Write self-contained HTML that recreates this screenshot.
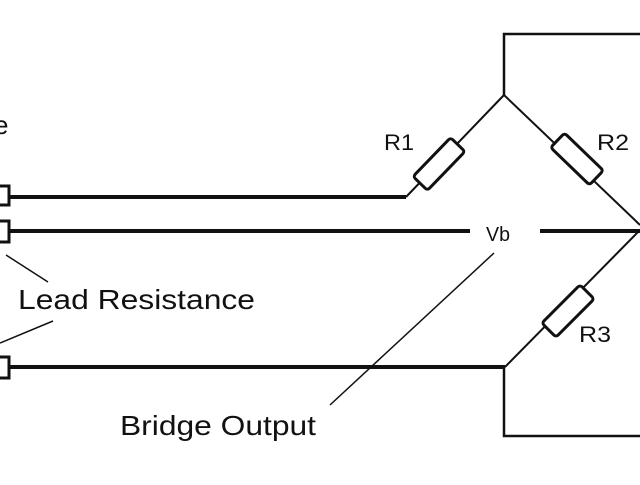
<!DOCTYPE html>
<html><head><style>
body{margin:0;background:#fff;width:640px;height:480px;overflow:hidden}
svg text{font-family:"Liberation Sans",sans-serif;fill:#111}
</style></head><body>
<svg width="640" height="480" viewBox="0 0 640 480" xmlns="http://www.w3.org/2000/svg">
<g stroke="#111" fill="none">
<polyline points="504,95 504,34 640,34" stroke-width="2.5"/>
<polyline points="504,367 504,436 640,436" stroke-width="2.5"/>
<polyline points="10,197 406,197" stroke-width="4"/>
<line x1="10" y1="231" x2="470" y2="231" stroke-width="4"/>
<line x1="540" y1="231" x2="640" y2="231" stroke-width="4"/>
<line x1="10" y1="367" x2="505" y2="367" stroke-width="4"/>
<line x1="406" y1="197" x2="504" y2="95" stroke-width="2"/>
<line x1="504" y1="95" x2="640" y2="225" stroke-width="2"/>
<line x1="640" y1="230" x2="505" y2="367" stroke-width="2"/>
<line x1="6" y1="255" x2="48" y2="282" stroke-width="1.5"/>
<line x1="0" y1="343" x2="53" y2="321" stroke-width="1.5"/>
<line x1="330" y1="405" x2="494" y2="253" stroke-width="1.5"/>
<rect x="-4" y="186" width="13" height="19" stroke-width="3"/>
<rect x="-4" y="221" width="13" height="21" stroke-width="3"/>
<rect x="-4" y="357" width="13" height="21" stroke-width="3"/>
</g>
<g stroke="#111" stroke-width="3" fill="#fff">
<rect x="-27" y="-10" width="54" height="20" rx="3" transform="translate(439,164) rotate(-46)"/>
<rect x="-27" y="-10" width="54" height="20" rx="3" transform="translate(577,159) rotate(44)"/>
<rect x="-27" y="-10" width="54" height="20" rx="3" transform="translate(568,311) rotate(-45)"/>
</g>
<text x="-6" y="134" font-size="26">e</text>
<text x="384" y="150" font-size="22" textLength="30" lengthAdjust="spacingAndGlyphs">R1</text>
<text x="597" y="150" font-size="22" textLength="32" lengthAdjust="spacingAndGlyphs">R2</text>
<text x="579" y="342" font-size="22" textLength="32" lengthAdjust="spacingAndGlyphs">R3</text>
<text x="486" y="241" font-size="20" textLength="24" lengthAdjust="spacingAndGlyphs">Vb</text>
<text x="18" y="309" font-size="28" textLength="237" lengthAdjust="spacingAndGlyphs">Lead Resistance</text>
<text x="120" y="435" font-size="28" textLength="196" lengthAdjust="spacingAndGlyphs">Bridge Output</text>
</svg>
</body></html>
